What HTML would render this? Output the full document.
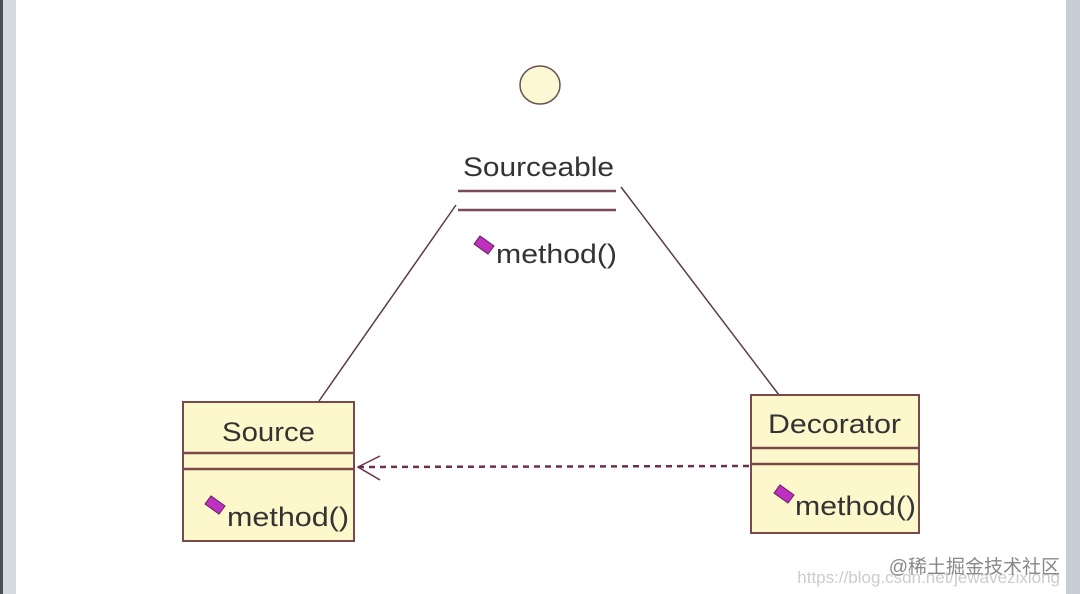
<!DOCTYPE html>
<html><head><style>
body{margin:0;width:1080px;height:594px;overflow:hidden;background:#fff;font-family:"Liberation Sans","Noto Sans CJK SC",sans-serif;}
</style></head><body>
<svg width="1080" height="594" xmlns="http://www.w3.org/2000/svg" style="position:absolute;left:0;top:0">
<rect x="0" y="0" width="3" height="594" fill="#4a5058"/>
<rect x="3" y="0" width="13" height="594" fill="#d6dbe2"/>
<rect x="1066" y="0" width="14" height="594" fill="#c9ced6"/>
<ellipse cx="540" cy="85" rx="20" ry="19" fill="#fdf8d4" stroke="#6b5050" stroke-width="1.5"/>
<text x="463" y="176" font-size="27" textLength="151" lengthAdjust="spacingAndGlyphs" fill="#333">Sourceable</text>
<line x1="458" y1="191" x2="616" y2="191" stroke="#7a4a5a" stroke-width="2.5"/>
<line x1="458" y1="210" x2="616" y2="210" stroke="#7a4a5a" stroke-width="2.5"/>
<polygon points="474,244 480,236 494,246 488,254" fill="#c030c0" stroke="#602060" stroke-width="1"/>
<text x="496" y="263" font-size="27" textLength="121" lengthAdjust="spacingAndGlyphs" fill="#333">method()</text>
<line x1="456" y1="205" x2="319" y2="401" stroke="#5a3a4a" stroke-width="1.5"/>
<line x1="621" y1="187" x2="779" y2="395" stroke="#5a3a4a" stroke-width="1.5"/>
<rect x="183" y="402" width="171" height="139" fill="#fdf8cc" stroke="#7a4a4a" stroke-width="2"/>
<line x1="183" y1="453" x2="354" y2="453" stroke="#7a4a4a" stroke-width="2.5"/>
<line x1="183" y1="469" x2="354" y2="469" stroke="#7a4a4a" stroke-width="2.5"/>
<text x="222" y="441" font-size="27" textLength="93" lengthAdjust="spacingAndGlyphs" fill="#333">Source</text>
<polygon points="205,504 211,496 225,506 219,514" fill="#c030c0" stroke="#602060" stroke-width="1"/>
<text x="227" y="526" font-size="27" textLength="122" lengthAdjust="spacingAndGlyphs" fill="#333">method()</text>
<rect x="751" y="395" width="168" height="138" fill="#fdf8cc" stroke="#7a4a4a" stroke-width="2"/>
<line x1="751" y1="448" x2="919" y2="448" stroke="#7a4a4a" stroke-width="2.5"/>
<line x1="751" y1="464" x2="919" y2="464" stroke="#7a4a4a" stroke-width="2.5"/>
<text x="768" y="433" font-size="27" textLength="133" lengthAdjust="spacingAndGlyphs" fill="#333">Decorator</text>
<polygon points="774,493 780,485 794,495 788,503" fill="#c030c0" stroke="#602060" stroke-width="1"/>
<text x="795" y="515" font-size="27" textLength="121" lengthAdjust="spacingAndGlyphs" fill="#333">method()</text>
<line x1="358" y1="467" x2="751" y2="466" stroke="#6a3050" stroke-width="2.5" stroke-dasharray="6,5"/>
<polyline points="380,456 358,467 380,480" fill="none" stroke="#6a3050" stroke-width="1.5"/>
<text x="1060" y="583" font-size="17" text-anchor="end" fill="#ccc">https://blog.csdn.net/jewavezixiong</text>
<text x="1060" y="573" font-size="19" text-anchor="end" fill="#888">@稀土掘金技术社区</text>
</svg>
</body></html>
